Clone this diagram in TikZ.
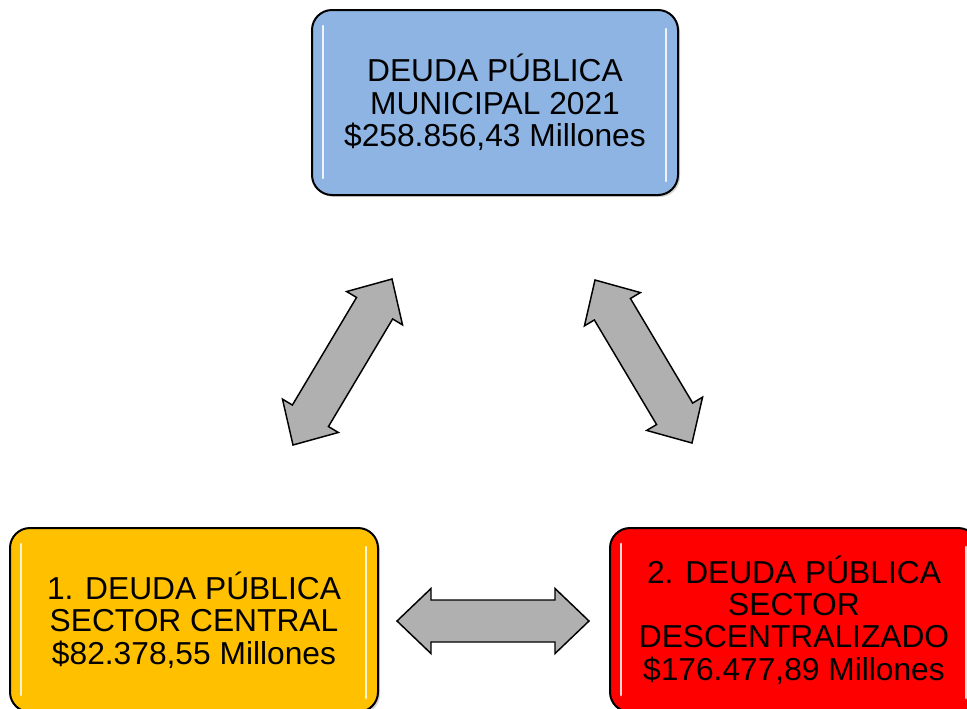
\documentclass[tikz,border=0pt]{standalone}
\usepackage{fontspec}
\setmainfont{Liberation Sans}
\usetikzlibrary{calc,shadows}
\definecolor{boxblue}{RGB}{142,180,227}
\definecolor{boxyellow}{RGB}{255,192,0}
\definecolor{boxred}{RGB}{255,0,0}
\definecolor{arrowgray}{RGB}{176,176,176}
\tikzset{
  infobox/.style={draw=black, line width=1.5pt, rounded corners=15pt,
    minimum width=274.5pt, minimum height=138.75pt, inner sep=0pt,
    align=center, font=\fontsize{23.8}{24.2}\selectfont,
    drop shadow={shadow xshift=1.5pt, shadow yshift=-1.5pt, opacity=0.35}},
  gloss/.style={white, line width=2pt, line cap=round, opacity=0.85},
  barrow/.style={draw=black, line width=1.1pt, fill=arrowgray, line join=miter}
}
\newcommand\blockarrow[2]{%
  \path ($(#1)!25.5pt!(#2)$) coordinate (p1) ($(#2)!25.5pt!(#1)$) coordinate (p2);
  \draw[barrow] (#1) -- ($(p1)!24.4pt!90:(#2)$) -- ($(p1)!15.75pt!90:(#2)$)
    -- ($(p2)!15.75pt!-90:(#1)$) -- ($(p2)!24.4pt!-90:(#1)$) -- (#2)
    -- ($(p2)!24.4pt!90:(#1)$) -- ($(p2)!15.75pt!90:(#1)$)
    -- ($(p1)!15.75pt!-90:(#2)$) -- ($(p1)!24.4pt!-90:(#2)$) -- cycle;
}
\begin{document}
\begin{tikzpicture}[x=0.75pt,y=-0.75pt]
\useasboundingbox (0,0) rectangle (967,708);
% boxes
\node[infobox, fill=boxblue] (top) at (495,102.5)
  {DEUDA PÚBLICA\\MUNICIPAL 2021\\\$258.856,43 Millones};
\node[infobox, fill=boxyellow, minimum width=276pt, minimum height=138pt] (left) at (194,620)
  {1. DEUDA PÚBLICA\\SECTOR CENTRAL\\\$82.378,55 Millones};
\node[infobox, fill=boxred, minimum width=276pt, minimum height=138pt] (right) at (794,620)
  {2. DEUDA PÚBLICA\\SECTOR\\DESCENTRALIZADO\\\$176.477,89 Millones};
% gloss highlights
\foreach \n in {top,left,right}{
  \draw[gloss] ($(\n.north west)+(12,17)$) -- ($(\n.south west)+(12,-18)$);
  \draw[gloss] ($(\n.north east)+(-13,20)$) -- ($(\n.south east)+(-13,-15)$);
}
% arrow end points
\coordinate (a1) at (293,445);
\coordinate (a2) at (392,279);
\coordinate (b1) at (595,280);
\coordinate (b2) at (692,443);
\coordinate (c1) at (397,621);
\coordinate (c2) at (589,621);
\blockarrow{a1}{a2}
\blockarrow{b1}{b2}
\blockarrow{c1}{c2}
\end{tikzpicture}
\end{document}
